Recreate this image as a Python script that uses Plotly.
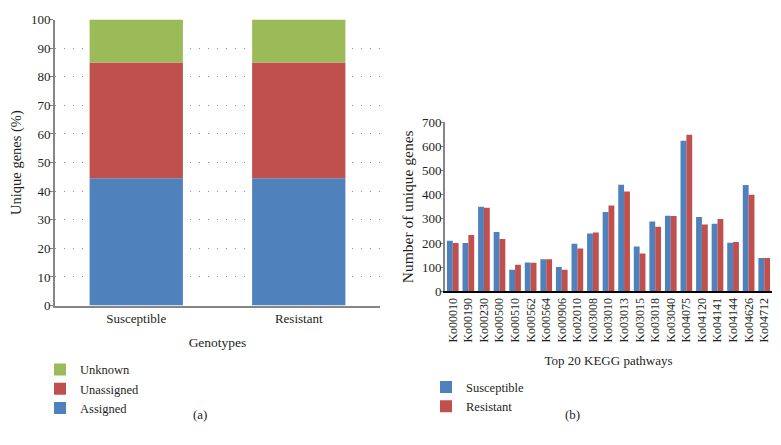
import plotly.graph_objects as go

# Panel (a) data
genotypes = ["Susceptible", "Resistant"]
assigned = [44.5, 44.5]
unassigned = [40.5, 40.5]
unknown = [15.0, 15.0]

# Panel (b) data
pathways = ["Ko00010", "Ko00190", "Ko00230", "Ko00500", "Ko00510", "Ko00562", "Ko00564",
            "Ko00906", "Ko02010", "Ko03008", "Ko03010", "Ko03013", "Ko03015", "Ko03018",
            "Ko03040", "Ko04075", "Ko04120", "Ko04141", "Ko04144", "Ko04626", "Ko04712"]
susceptible = [210, 200, 350, 246, 90, 120, 133, 101, 197, 240, 329, 441, 186, 289, 313, 624, 308, 280, 201, 440, 138]
resistant = [200, 233, 346, 217, 110, 119, 133, 90, 177, 244, 356, 413, 157, 268, 312, 648, 277, 300, 204, 400, 138]

BLUE = "#4F81BD"
RED = "#C0504D"
GREEN = "#9BBB59"
FONT = "Liberation Serif"
TXT = "#231f20"
W, H = 781, 445

fig = go.Figure()

# Panel (a): stacked bars using base
base_un = [a for a in assigned]
base_uk = [a + u for a, u in zip(assigned, unassigned)]
wa = 0.574
fig.add_trace(go.Bar(x=genotypes, y=assigned, name="Assigned", marker_color=BLUE,
                     width=wa, offset=-wa / 2, xaxis="x", yaxis="y", legend="legend",
                     marker_line_width=0))
fig.add_trace(go.Bar(x=genotypes, y=unassigned, base=base_un, name="Unassigned", marker_color=RED,
                     width=wa, offset=-wa / 2, xaxis="x", yaxis="y", legend="legend",
                     marker_line_width=0))
fig.add_trace(go.Bar(x=genotypes, y=unknown, base=base_uk, name="Unknown", marker_color=GREEN,
                     width=wa, offset=-wa / 2, xaxis="x", yaxis="y", legend="legend",
                     marker_line_width=0))

# Panel (b): grouped bars
wb = 0.375
fig.add_trace(go.Bar(x=pathways, y=susceptible, name="Susceptible", marker_color=BLUE,
                     width=wb, offset=-wb, xaxis="x2", yaxis="y2", legend="legend2",
                     marker_line_width=0))
fig.add_trace(go.Bar(x=pathways, y=resistant, name="Resistant", marker_color=RED,
                     width=wb, offset=0, xaxis="x2", yaxis="y2", legend="legend2",
                     marker_line_width=0))

tickfont = dict(family=FONT, size=13, color=TXT)
titlefont = dict(family=FONT, size=13, color=TXT)

fig.update_layout(
    width=W, height=H,
    margin=dict(l=0, r=0, t=0, b=0),
    paper_bgcolor="white", plot_bgcolor="white",
    barmode="overlay",
    font=dict(family=FONT, size=13, color=TXT),
    xaxis=dict(domain=[55 / W, 380 / W], range=[-0.5, 1.5], anchor="y",
               showline=True, linecolor="#868686", linewidth=2, ticks="",
               tickfont=tickfont, showgrid=False,
               title=dict(text="Genotypes", font=dict(family=FONT, size=13.5, color=TXT), standoff=12)),
    yaxis=dict(domain=[136 / H, 432 / H], range=[0, 100], anchor="x",
               dtick=10, showline=True, linecolor="#868686", linewidth=2,
               ticks="outside", ticklen=4, tickcolor="#868686", tickwidth=1,
               ticklabelstandoff=-4,
               tickfont=tickfont,
               showgrid=True, gridcolor="#8f8f8f", griddash="1px,8px", gridwidth=1,
               zeroline=False,
               title=dict(text="Unique genes (%)", font=dict(family=FONT, size=14.5, color=TXT), standoff=6)),
    xaxis2=dict(domain=[445 / W, 772 / W], range=[-0.5, 20.5], anchor="y2",
                showline=True, linecolor="#000", linewidth=1.5, ticks="",
                tickangle=-90, tickfont=dict(family=FONT, size=12, color=TXT),
                showgrid=False,
                title=dict(text="Top 20 KEGG pathways", font=titlefont, standoff=14)),
    yaxis2=dict(domain=[150.7 / H, 325.7 / H], range=[0, 700], anchor="x2",
                dtick=100, showline=True, linecolor="#868686", linewidth=2,
                ticks="outside", ticklen=3, tickcolor="#868686",
                ticklabelstandoff=-4,
                tickfont=tickfont, showgrid=False, zeroline=False,
                title=dict(text="Number of unique genes", font=dict(family=FONT, size=15.5, color=TXT), standoff=4)),
    legend=dict(x=40 / W, y=(H - 360) / H, xanchor="left", yanchor="top",
                traceorder="reversed", font=dict(family=FONT, size=12.5, color=TXT),
                bgcolor="rgba(0,0,0,0)"),
    legend2=dict(x=426 / W, y=(H - 378) / H, xanchor="left", yanchor="top",
                 traceorder="normal", font=dict(family=FONT, size=12.5, color=TXT),
                 bgcolor="rgba(0,0,0,0)"),
    annotations=[
        dict(text="(a)", x=191 / W, y=(H - 432) / H, xref="paper", yref="paper",
             showarrow=False, font=titlefont),
        dict(text="(b)", x=582 / W, y=(H - 432) / H, xref="paper", yref="paper",
             showarrow=False, font=titlefont),
    ],
)

fig.write_html("out.html", config={"displayModeBar": False},
               post_script="document.body.style.margin='0';")
